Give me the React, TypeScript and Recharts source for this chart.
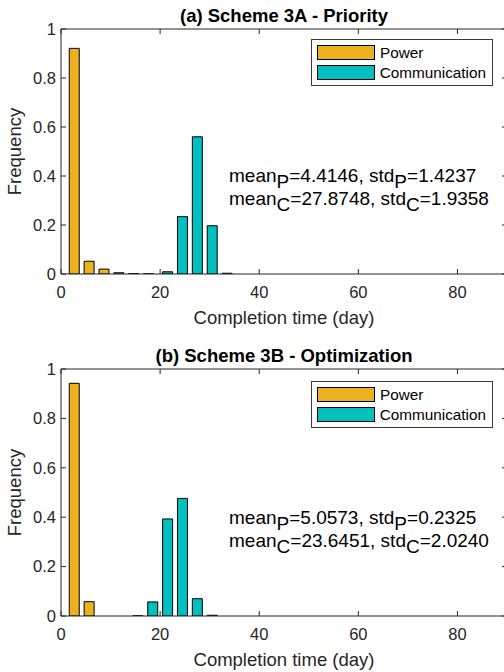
import React from 'react';
import { BarChart, Bar, XAxis, YAxis, Legend } from 'recharts';

const FONT = '"Liberation Sans", Arial, Helvetica, sans-serif';
const AXIS_COLOR = '#262626';
const POWER_COLOR = '#EDB120';
const COMM_COLOR = '#00BFBF';

const xTicks = [0, 20, 40, 60, 80];
const yTicks = [0, 0.2, 0.4, 0.6, 0.8, 1];
const seriesNames = ['Power', 'Communication'];

// (a) Scheme 3A - Priority
const powerBinsA = [2.76, 5.76, 8.76, 11.76, 14.76, 17.76];
const powerFreqA = [0.921, 0.052, 0.02, 0.005, 0.002, 0.001];
const commBinsA = [21.6, 24.6, 27.6, 30.6, 33.6];
const commFreqA = [0.009, 0.234, 0.56, 0.197, 0.003];

// (b) Scheme 3B - Optimization
const powerBinsB = [2.76, 5.76];
const powerFreqB = [0.942, 0.058];
const commBinsB = [15.6, 18.6, 21.6, 24.6, 27.6, 30.6];
const commFreqB = [0.001, 0.057, 0.393, 0.476, 0.07, 0.003];

type Row = { t: number; power: number; comm: number };

function buildRows(pBins: number[], pFreq: number[], cBins: number[], cFreq: number[]): Row[] {
  const rows: Row[] = [];
  pBins.forEach((t, i) => rows.push({ t, power: pFreq[i], comm: 0 }));
  cBins.forEach((t, i) => rows.push({ t, power: 0, comm: cFreq[i] }));
  return rows.sort((a, b) => a.t - b.t);
}

const renderLegend = (props: any) => {
  const payload = [...(props.payload || [])].sort(
    (a: any, b: any) => seriesNames.indexOf(a.value) - seriesNames.indexOf(b.value)
  );
  return (
    <div
      style={{
        boxSizing: 'border-box',
        width: 182,
        height: 47,
        border: '1px solid #3a3a3a',
        background: '#fff',
        padding: '5px 6px 5px 5px',
        fontFamily: FONT,
        fontSize: 15.3,
        color: '#000',
      }}
    >
      {payload.map((entry: any, i: number) => (
        <div
          key={i}
          style={{ display: 'flex', alignItems: 'center', height: 15, marginBottom: i === 0 ? 5 : 0 }}
        >
          <div
            style={{
              boxSizing: 'border-box',
              width: 58,
              height: 15,
              background: entry.color,
              border: '1px solid #000',
              marginRight: 5,
            }}
          />
          <span style={{ lineHeight: '15px', whiteSpace: 'nowrap' }}>{entry.value}</span>
        </div>
      ))}
    </div>
  );
};

type PanelProps = {
  top: number;
  plotTop: number;
  plotBottom: number;
  legendTop: number;
  title: string;
  rows: Row[];
  stats: { meanP: string; stdP: string; meanC: string; stdC: string };
};

const CHART_W = 520;
const CHART_H = 336;
const PLOT_LEFT = 61;
const PLOT_RIGHT = 507;

function Panel({ top, plotTop, plotBottom, legendTop, title, rows, stats }: PanelProps) {
  const cx = (PLOT_LEFT + PLOT_RIGHT) / 2;
  const cy = (plotTop + plotBottom) / 2;
  const annBase1 = plotBottom - 92;
  const annBase2 = annBase1 + 23;
  const sub = 6;
  const tickStyle = { fill: AXIS_COLOR, fontSize: 16.5, fontFamily: FONT };
  return (
    <div style={{ position: 'absolute', left: 0, top, width: 504, height: CHART_H, overflow: 'hidden' }}>
      <BarChart
        width={CHART_W}
        height={CHART_H}
        data={rows}
        margin={{ top: 0, right: 0, bottom: 0, left: 0 }}
        barSize={10}
      >
        <XAxis
          dataKey="t"
          type="number"
          domain={[0, 90]}
          ticks={xTicks}
          interval={0}
          height={CHART_H - plotBottom}
          stroke={AXIS_COLOR}
          tickSize={-5}
          tickMargin={17}
          tick={tickStyle}
          allowDataOverflow
        />
        <XAxis
          xAxisId="top"
          orientation="top"
          dataKey="t"
          type="number"
          domain={[0, 90]}
          ticks={xTicks}
          interval={0}
          height={plotTop}
          stroke={AXIS_COLOR}
          tickSize={-5}
          tickFormatter={() => ''}
          allowDataOverflow
        />
        <YAxis
          type="number"
          domain={[0, 1]}
          ticks={yTicks}
          interval={0}
          width={PLOT_LEFT}
          stroke={AXIS_COLOR}
          tickSize={-5}
          tickMargin={10}
          tick={tickStyle}
          allowDataOverflow
        />
        <YAxis
          yAxisId="right"
          orientation="right"
          type="number"
          domain={[0, 1]}
          ticks={yTicks}
          interval={0}
          width={CHART_W - PLOT_RIGHT}
          stroke={AXIS_COLOR}
          tickSize={-5}
          tickFormatter={() => ''}
          allowDataOverflow
        />
        <Legend
          layout="horizontal"
          verticalAlign="middle"
          align="center"
          content={renderLegend}
          wrapperStyle={{ position: 'absolute', left: 311, top: legendTop, width: 182, height: 47 }}
        />
        <Bar
          dataKey="power"
          name={seriesNames[0]}
          stackId="s"
          fill={POWER_COLOR}
          stroke="#000"
          strokeWidth={1}
          isAnimationActive={false}
        />
        <Bar
          dataKey="comm"
          name={seriesNames[1]}
          stackId="s"
          fill={COMM_COLOR}
          stroke="#000"
          strokeWidth={1}
          isAnimationActive={false}
        />
      </BarChart>
      <svg
        width={504}
        height={CHART_H}
        style={{ position: 'absolute', left: 0, top: 0, pointerEvents: 'none' }}
      >
        <text x={cx} y={plotTop - 7} textAnchor="middle" fontFamily={FONT} fontWeight="bold" fontSize={18.5} fill="#000">
          {title}
        </text>
        <text x={cx} y={plotBottom + 50} textAnchor="middle" fontFamily={FONT} fontSize={18.5} fill={AXIS_COLOR}>
          Completion time (day)
        </text>
        <text
          x={21}
          y={cy}
          textAnchor="middle"
          fontFamily={FONT}
          fontSize={18.5}
          fill={AXIS_COLOR}
          transform={`rotate(-90 21 ${cy})`}
        >
          Frequency
        </text>
        <text x={229} y={annBase1} fontFamily={FONT} fontSize={19} fill="#000">
          mean<tspan dy={sub}>P</tspan>
          <tspan dy={-sub}>={stats.meanP}, std</tspan>
          <tspan dy={sub}>P</tspan>
          <tspan dy={-sub}>={stats.stdP}</tspan>
        </text>
        <text x={229} y={annBase2} fontFamily={FONT} fontSize={19} fill="#000">
          mean<tspan dy={sub}>C</tspan>
          <tspan dy={-sub}>={stats.meanC}, std</tspan>
          <tspan dy={sub}>C</tspan>
          <tspan dy={-sub}>={stats.stdC}</tspan>
        </text>
      </svg>
    </div>
  );
}

const rowsA = buildRows(powerBinsA, powerFreqA, commBinsA, commFreqA);
const rowsB = buildRows(powerBinsB, powerFreqB, commBinsB, commFreqB);

export default function App() {
  return (
    <div
      style={{
        position: 'absolute',
        left: 0,
        top: 0,
        width: 504,
        height: 672,
        overflow: 'hidden',
        background: '#fff',
      }}
    >
      <Panel
        top={0}
        plotTop={29}
        plotBottom={274}
        legendTop={39}
        title="(a) Scheme 3A - Priority"
        rows={rowsA}
        stats={{ meanP: '4.4146', stdP: '1.4237', meanC: '27.8748', stdC: '1.9358' }}
      />
      <Panel
        top={336}
        plotTop={33}
        plotBottom={280}
        legendTop={45}
        title="(b) Scheme 3B - Optimization"
        rows={rowsB}
        stats={{ meanP: '5.0573', stdP: '0.2325', meanC: '23.6451', stdC: '2.0240' }}
      />
    </div>
  );
}
